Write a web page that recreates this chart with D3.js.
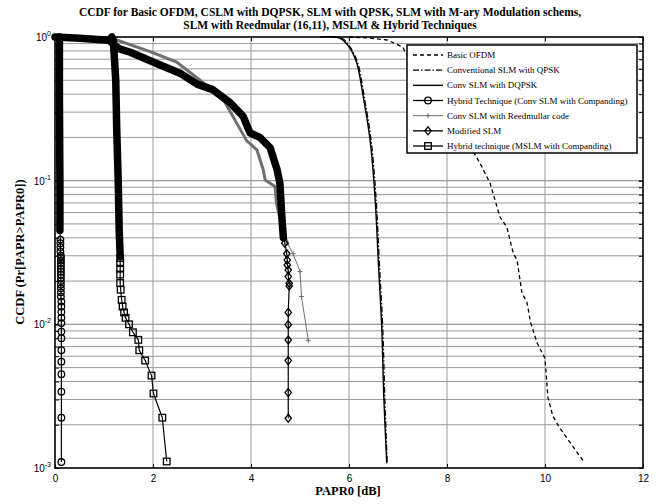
<!DOCTYPE html>
<html>
<head>
<meta charset="utf-8">
<script src="https://cdn.jsdelivr.net/npm/d3@7/dist/d3.min.js"></script>
<style>
body { margin: 0; background: #fff; }
</style>
</head>
<body>
<svg id="graph" width="659" height="504"></svg>
<script>
// chart data ([PAPR0 dB, CCDF])
var titleLines = [
	"CCDF for Basic OFDM, CSLM with DQPSK, SLM with QPSK, SLM with M-ary Modulation schems,",
	"SLM with Reedmular (16,11), MSLM & Hybrid Techniques"
];
var xTicks = [0, 2, 4, 6, 8, 10, 12];
var yTicks = [1, 0.1, 0.01, 0.001];
var yTickExp = ["0", "-1", "-2", "-3"];
var legendLabels = [
	"Basic OFDM",
	"Conventional SLM with QPSK",
	"Conv SLM with DQPSK",
	"Hybrid Technique (Conv SLM with Companding)",
	"Conv SLM with Reedmullar code",
	"Modified SLM",
	"Hybrid technique (MSLM with Companding)"
];

var basicOfdm = [[6.0, 1.0], [6.4, 0.985], [6.78, 0.953], [7.1, 0.85], [7.14, 0.79], [7.6, 0.5], [8.1, 0.27],
	[8.55, 0.156], [8.67, 0.133], [8.88, 0.096], [9.08, 0.056], [9.22, 0.0476], [9.35, 0.0314],
	[9.43, 0.028], [9.53, 0.0165], [9.63, 0.0143], [9.71, 0.0102], [9.84, 0.0074], [10.0, 0.0058],
	[10.06, 0.0031], [10.16, 0.0023], [10.3, 0.0019], [10.78, 0.00112]];

var convQpsk = [[5.6, 1.0], [5.86, 0.98], [6.04, 0.834], [6.18, 0.656], [6.31, 0.384], [6.45, 0.192],
	[6.55, 0.0774], [6.62, 0.0266], [6.69, 0.00914], [6.73, 0.00314], [6.78, 0.00108]];

var convDqpsk = [[5.41, 1.0], [5.82, 0.98], [6.02, 0.834], [6.16, 0.656], [6.29, 0.384], [6.43, 0.192],
	[6.53, 0.0774], [6.6, 0.0266], [6.67, 0.00914], [6.71, 0.00314], [6.77, 0.00108]];

var hybridConvBand = [[0.09, 1.0], [0.09, 0.4], [0.1, 0.1], [0.1, 0.045]];
var hybridConvMarks = [[0.11, 0.0389], [0.11, 0.0367], [0.11, 0.0344], [0.11, 0.0322], [0.12, 0.03],
	[0.12, 0.0289], [0.12, 0.0278], [0.12, 0.0267], [0.12, 0.0256], [0.12, 0.0244], [0.12, 0.0233],
	[0.12, 0.0222], [0.12, 0.0211], [0.12, 0.02], [0.12, 0.0189], [0.12, 0.0178], [0.12, 0.0167],
	[0.12, 0.0156], [0.13, 0.0144], [0.13, 0.0133], [0.13, 0.0122], [0.13, 0.0111], [0.13, 0.0102],
	[0.13, 0.0089], [0.13, 0.008], [0.13, 0.0066], [0.13, 0.0055], [0.13, 0.0045], [0.13, 0.0034],
	[0.13, 0.00224], [0.13, 0.0011]];

var reedBand = [[0.0, 0.99], [0.6, 0.98], [1.26, 0.953], [1.94, 0.79], [2.48, 0.67], [2.96, 0.5],
	[3.45, 0.36], [3.91, 0.19], [4.12, 0.164], [4.25, 0.119], [4.29, 0.101], [4.49, 0.091],
	[4.52, 0.0696], [4.66, 0.043], [4.76, 0.0357]];
var reedMarks = [[4.86, 0.031], [5.0, 0.0233], [5.03, 0.0156], [5.17, 0.0077]];

var modSlmBand = [[0.0, 1.0], [0.5, 0.98], [1.1, 0.95], [1.3, 0.83], [1.55, 0.78], [2.0, 0.67],
	[2.55, 0.56], [2.9, 0.47], [3.22, 0.43], [3.57, 0.35], [3.84, 0.28], [3.98, 0.215], [4.18, 0.2],
	[4.39, 0.17], [4.53, 0.12], [4.59, 0.096], [4.63, 0.056], [4.66, 0.04]];
var modSlmMarks = [[4.69, 0.0367], [4.73, 0.031], [4.74, 0.028], [4.74, 0.0259], [4.76, 0.0239],
	[4.76, 0.0215], [4.78, 0.0193], [4.78, 0.0185], [4.76, 0.0121], [4.76, 0.00995], [4.76, 0.00778],
	[4.76, 0.00559], [4.76, 0.00335], [4.76, 0.00222]];

var hybridMslmBand = [[1.16, 1.0], [1.19, 0.95], [1.24, 0.5], [1.26, 0.225], [1.29, 0.1], [1.31, 0.045], [1.33, 0.03]];
var hybridMslmMarks = [[1.33, 0.0289], [1.33, 0.0267], [1.33, 0.0244], [1.33, 0.0222], [1.33, 0.0194],
	[1.34, 0.0174], [1.36, 0.0148], [1.38, 0.0133], [1.41, 0.0121], [1.44, 0.0111], [1.51, 0.01],
	[1.59, 0.0088], [1.7, 0.0078], [1.72, 0.0066], [1.84, 0.0056], [1.97, 0.0044], [2.01, 0.0033],
	[2.19, 0.00224], [2.28, 0.00111]];

var serif = "'Liberation Serif', 'Times New Roman', serif";
var sans = "'Liberation Sans', Arial, sans-serif";

var graph = d3.select("#graph");
var plotLeft = 55, plotRight = 643, plotTop = 37, plotBottom = 468;

var x = d3.scaleLinear().domain([0, 12]).range([plotLeft, plotRight]);
var y = d3.scaleLog().domain([0.001, 1]).range([plotBottom, plotTop]);

// minor log positions for grid and ticks
var yMinor = [];
[0.001, 0.01, 0.1].forEach(function(d) {
	for (var k = 1; k <= 10; k++) yMinor.push(d * k);
});

// grid
graph.append("g").selectAll("line").data(yMinor.filter(function(d) { return d > 0.0011 && d < 0.99; }))
	.enter().append("line")
	.attr("x1", plotLeft).attr("x2", plotRight)
	.attr("y1", function(d) { return y(d); }).attr("y2", function(d) { return y(d); })
	.attr("stroke", "#9a9a9a").attr("stroke-width", 1);
graph.append("g").selectAll("line").data(xTicks.slice(1, -1))
	.enter().append("line")
	.attr("y1", plotTop).attr("y2", plotBottom)
	.attr("x1", function(d) { return x(d); }).attr("x2", function(d) { return x(d); })
	.attr("stroke", "#9a9a9a").attr("stroke-width", 1);

// axes with inward ticks
var axis;
axis = d3.axisBottom(x).tickValues(xTicks).tickSizeInner(-4).tickSizeOuter(0).tickPadding(7);
var gx = graph.append("g").attr("transform", "translate(0," + plotBottom + ")").call(axis);
gx.selectAll("text").style("font-family", sans).style("font-size", "10px").attr("fill", "#000");

axis = d3.axisTop(x).tickValues(xTicks).tickSizeInner(-4).tickSizeOuter(0).tickFormat("");
graph.append("g").attr("transform", "translate(0," + plotTop + ")").call(axis);

axis = d3.axisLeft(y).tickValues(yMinor).tickSizeInner(-4).tickSizeOuter(0).tickFormat("");
graph.append("g").attr("transform", "translate(" + plotLeft + ",0)").call(axis);

axis = d3.axisRight(y).tickValues(yMinor).tickSizeInner(-4).tickSizeOuter(0).tickFormat("");
graph.append("g").attr("transform", "translate(" + plotRight + ",0)").call(axis);

graph.selectAll(".domain").remove();
graph.selectAll(".tick line").attr("stroke", "#000");

graph.append("rect")
	.attr("x", plotLeft).attr("y", plotTop)
	.attr("width", plotRight - plotLeft).attr("height", plotBottom - plotTop)
	.attr("fill", "none").attr("stroke", "#000").attr("stroke-width", 1.6);

// y tick labels 10^n
yTicks.forEach(function(d, i) {
	var t = graph.append("text")
		.attr("x", plotLeft - 4).attr("y", y(d) + 4)
		.attr("text-anchor", "end")
		.style("font-family", sans).style("font-size", "10px");
	t.append("tspan").text("10");
	t.append("tspan").attr("dy", -5).style("font-size", "7px").text(yTickExp[i]);
});

// series
var line = d3.line().x(function(d) { return x(d[0]); }).y(function(d) { return y(d[1]); });
var smooth = d3.line().curve(d3.curveCatmullRom).x(function(d) { return x(d[0]); }).y(function(d) { return y(d[1]); });

function marker(g, shape, cx, cy, color) {
	if (shape == "circle") {
		g.append("circle").attr("cx", cx).attr("cy", cy).attr("r", 3.3)
			.attr("fill", "none").attr("stroke", color).attr("stroke-width", 1.3);
	} else if (shape == "square") {
		g.append("rect").attr("x", cx - 3.3).attr("y", cy - 3.3).attr("width", 6.6).attr("height", 6.6)
			.attr("fill", "none").attr("stroke", color).attr("stroke-width", 1.3);
	} else if (shape == "diamond") {
		g.append("path").attr("d", "M" + cx + "," + (cy - 4) + "L" + (cx + 3.2) + "," + cy + "L" + cx + "," + (cy + 4) + "L" + (cx - 3.2) + "," + cy + "Z")
			.attr("fill", "none").attr("stroke", color).attr("stroke-width", 1.3);
	} else if (shape == "plus") {
		g.append("path").attr("d", "M" + (cx - 2.5) + "," + cy + "H" + (cx + 2.5) + "M" + cx + "," + (cy - 2.5) + "V" + (cy + 2.5))
			.attr("stroke", color).attr("stroke-width", 1);
	}
}

function drawMarks(data, shape, color) {
	var g = graph.append("g");
	data.forEach(function(d) {
		marker(g, shape, x(d[0]), y(d[1]), color);
	});
}

graph.append("path").attr("d", line(basicOfdm))
	.attr("fill", "none").attr("stroke", "#000").attr("stroke-width", 1.3).attr("stroke-dasharray", "4,3");

graph.append("path").attr("d", smooth(convQpsk))
	.attr("fill", "none").attr("stroke", "#000").attr("stroke-width", 1.3).attr("stroke-dasharray", "6,2,1.5,2");

graph.append("path").attr("d", smooth(convDqpsk))
	.attr("fill", "none").attr("stroke", "#000").attr("stroke-width", 1.4);

// Reed-Muller: dense markers merge into a thicker grey line
graph.append("path").attr("d", line(reedBand))
	.attr("fill", "none").attr("stroke", "#707070").attr("stroke-width", 3).attr("stroke-linejoin", "round");
graph.append("path").attr("d", line(reedBand.slice(-1).concat(reedMarks)))
	.attr("fill", "none").attr("stroke", "#707070").attr("stroke-width", 1);
drawMarks(reedMarks, "plus", "#707070");

// Modified SLM
graph.append("path").attr("d", line(modSlmBand))
	.attr("fill", "none").attr("stroke", "#000").attr("stroke-width", 7.5)
	.attr("stroke-linejoin", "round").attr("stroke-linecap", "round");
graph.append("path").attr("d", line(modSlmBand.slice(-1).concat(modSlmMarks)))
	.attr("fill", "none").attr("stroke", "#000").attr("stroke-width", 1.2);
drawMarks(modSlmMarks, "diamond", "#000");

// Hybrid (Conv SLM with companding)
graph.append("path").attr("d", line(hybridConvBand))
	.attr("fill", "none").attr("stroke", "#000").attr("stroke-width", 7.5)
	.attr("stroke-linejoin", "round").attr("stroke-linecap", "round");
graph.append("path").attr("d", line(hybridConvBand.slice(-1).concat(hybridConvMarks)))
	.attr("fill", "none").attr("stroke", "#000").attr("stroke-width", 1.2);
drawMarks(hybridConvMarks, "circle", "#000");

// Hybrid (MSLM with companding)
graph.append("path").attr("d", line(hybridMslmBand))
	.attr("fill", "none").attr("stroke", "#000").attr("stroke-width", 7.5)
	.attr("stroke-linejoin", "round").attr("stroke-linecap", "round");
graph.append("path").attr("d", line(hybridMslmBand.slice(-1).concat(hybridMslmMarks)))
	.attr("fill", "none").attr("stroke", "#000").attr("stroke-width", 1.2);
drawMarks(hybridMslmMarks, "square", "#000");

// legend
var legendStyles = [
	{ dash: "4,3", color: "#000", width: 1.3, mark: null },
	{ dash: "6,2,1.5,2", color: "#000", width: 1.3, mark: null },
	{ dash: null, color: "#000", width: 1.4, mark: null },
	{ dash: null, color: "#000", width: 1.3, mark: "circle" },
	{ dash: null, color: "#707070", width: 1, mark: "plus" },
	{ dash: null, color: "#000", width: 1.3, mark: "diamond" },
	{ dash: null, color: "#000", width: 1.3, mark: "square" }
];
var legend = graph.append("g");
legend.append("rect").attr("x", 407).attr("y", 45).attr("width", 230).attr("height", 108)
	.attr("fill", "#fff").attr("stroke", "#000").attr("stroke-width", 1.5);
var ly = d3.scalePoint().domain(d3.range(legendLabels.length)).range([55, 146]);
legendLabels.forEach(function(label, i) {
	var s = legendStyles[i];
	var yy = ly(i);
	legend.append("line").attr("x1", 413).attr("x2", 443).attr("y1", yy).attr("y2", yy)
		.attr("stroke", s.color).attr("stroke-width", s.width).attr("stroke-dasharray", s.dash);
	if (s.mark) marker(legend, s.mark, 428, yy, s.color);
	legend.append("text").attr("x", 447).attr("y", yy + 3)
		.style("font-family", serif).style("font-size", "9px").text(label);
});

// title and axis labels
titleLines.forEach(function(t, i) {
	graph.append("text").attr("x", 330).attr("y", 16 + i * 13)
		.attr("text-anchor", "middle")
		.style("font-family", serif).style("font-size", "11.5px").style("font-weight", "bold")
		.text(t);
});
graph.append("text").attr("x", 348).attr("y", 495)
	.attr("text-anchor", "middle")
	.style("font-family", serif).style("font-size", "12.5px").style("font-weight", "bold")
	.text("PAPR0 [dB]");
graph.append("text").attr("transform", "translate(24,252) rotate(-90)")
	.attr("text-anchor", "middle")
	.style("font-family", serif).style("font-size", "12.5px").style("font-weight", "bold")
	.text("CCDF (Pr[PAPR>PAPR0])");
</script>
</body>
</html>
